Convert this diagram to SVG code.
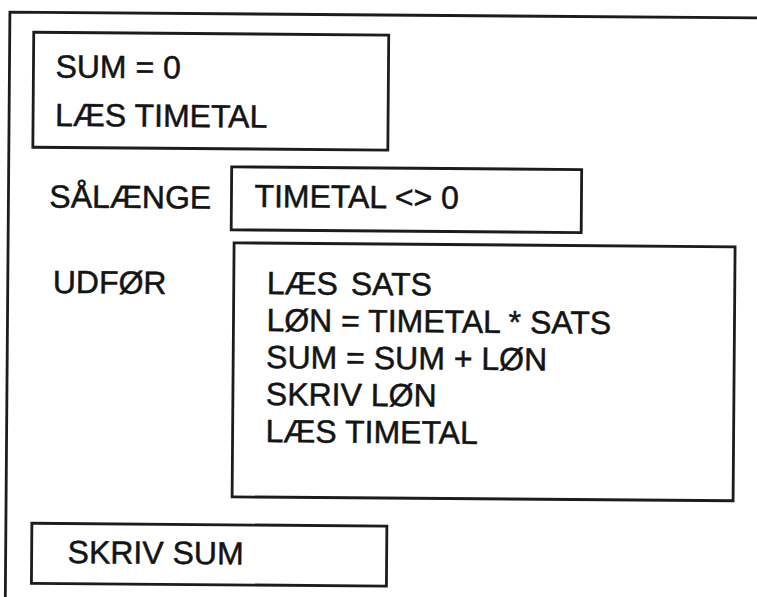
<svg xmlns="http://www.w3.org/2000/svg" width="757" height="597" viewBox="0 0 757 597">
  <style>
    .box { fill: none; stroke: #1c1c1c; stroke-width: 2.8; }
    .frame { fill: none; stroke: #1c1c1c; stroke-width: 2.8; }
    .t { font-family: "Liberation Sans", Arial, Helvetica, sans-serif; font-size: 32px; fill: #141414; stroke: #141414; stroke-width: 0.5; }
  </style>
  <rect width="757" height="597" fill="#ffffff"/>
  <g transform="rotate(0.45)">
    <g id="frame">
      <path class="frame" d="M 770 12 L 10 12 L 10 620"/>
    </g>
    <g id="init">
      <rect class="box" x="34" y="32" width="355" height="115"/>
      <text class="t" x="56" y="77">SUM = 0</text>
      <text class="t" x="56" y="125.5">LÆS TIMETAL</text>
    </g>
    <g id="while-label">
      <text class="t" x="51" y="207">SÅLÆNGE</text>
    </g>
    <g id="condition">
      <rect class="box" x="233" y="165" width="350" height="63"/>
      <text class="t" x="256" y="205">TIMETAL &lt;&gt; 0</text>
    </g>
    <g id="do-label">
      <text class="t" x="55" y="292.5">UDFØR</text>
    </g>
    <g id="loop-body">
      <rect class="box" x="236" y="241" width="501" height="254"/>
      <text class="t" x="269" y="292" word-spacing="4">LÆS SATS</text>
      <text class="t" x="269" y="329">LØN = TIMETAL * SATS</text>
      <text class="t" x="269" y="366">SUM = SUM + LØN</text>
      <text class="t" x="269" y="403">SKRIV LØN</text>
      <text class="t" x="269" y="440">LÆS TIMETAL</text>
    </g>
    <g id="output">
      <rect class="box" x="36" y="523" width="355" height="60"/>
      <text class="t" x="72" y="562.5">SKRIV SUM</text>
    </g>
  </g>
</svg>
